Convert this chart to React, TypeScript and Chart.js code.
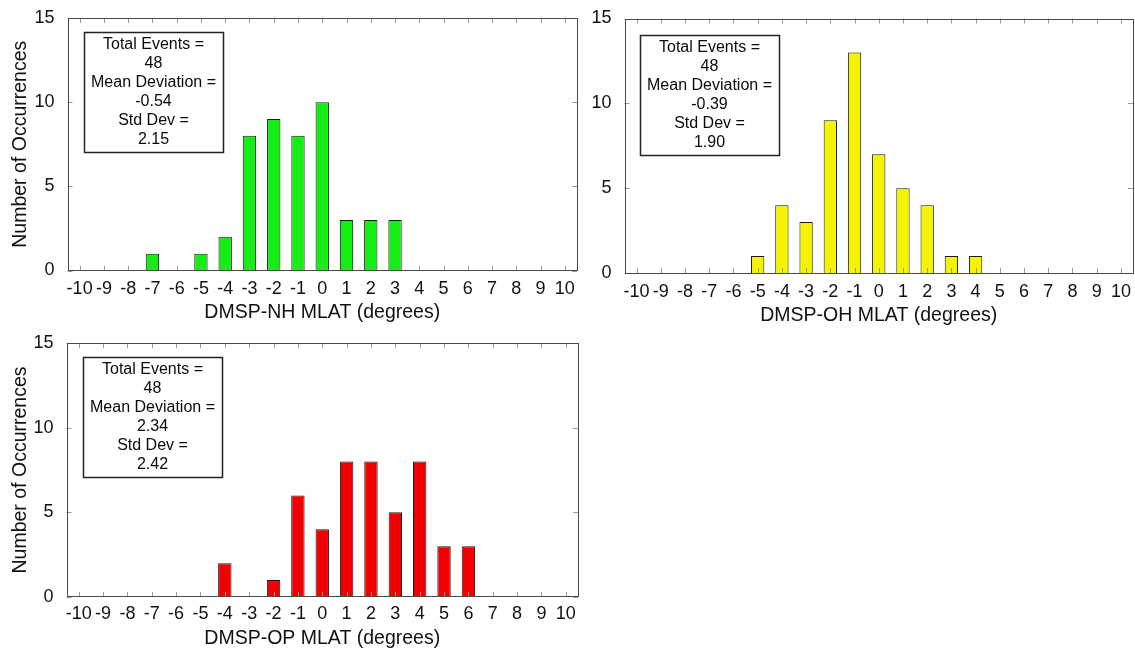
import React, { useEffect, useRef } from 'react';
import { Chart, registerables } from 'chart.js';

Chart.register(...registerables);

// ---- data ----
const degreeLabels = ['-10', '-9', '-8', '-7', '-6', '-5', '-4', '-3', '-2', '-1', '0', '1', '2', '3', '4', '5', '6', '7', '8', '9', '10'];

const nhCounts = [0, 0, 0, 1, 0, 1, 2, 8, 9, 8, 10, 3, 3, 3, 0, 0, 0, 0, 0, 0, 0];
const ohCounts = [0, 0, 0, 0, 0, 1, 4, 3, 9, 13, 7, 5, 4, 1, 1, 0, 0, 0, 0, 0, 0];
const opCounts = [0, 0, 0, 0, 0, 0, 2, 0, 1, 6, 4, 8, 8, 5, 8, 3, 3, 0, 0, 0, 0];

const nhStats = ['Total Events =', '48', 'Mean Deviation =', '-0.54', 'Std Dev =', '2.15'];
const ohStats = ['Total Events =', '48', 'Mean Deviation =', '-0.39', 'Std Dev =', '1.90'];
const opStats = ['Total Events =', '48', 'Mean Deviation =', '2.34', 'Std Dev =', '2.42'];

const yTickValues = [0, 5, 10, 15];
const yAxisTitle = 'Number of Occurrences';

const FONT = '"Liberation Sans", Arial, Helvetica, sans-serif';

type PanelCfg = {
  left: number;
  top: number;
  width: number;
  height: number;
  counts: number[];
  color: string;
  stats: string[];
  xTitle: string;
  showYTitle: boolean;
  yAxisWidth: number;
  xAxisHeight: number;
  padTop: number;
  padRight: number;
  xTickPad: number;
  xTitlePadBottom: number;
  boxDx: number;
  boxDy: number;
};

const panels: PanelCfg[] = [
  {
    left: 0, top: 0, width: 590, height: 330,
    counts: nhCounts, color: '#14ee14', stats: nhStats,
    xTitle: 'DMSP-NH MLAT (degrees)', showYTitle: true,
    yAxisWidth: 67.5, xAxisHeight: 59.5, padTop: 18, padRight: 13,
    xTickPad: 0, xTitlePadBottom: 6, boxDx: 16.5, boxDy: 14,
  },
  {
    left: 590, top: 0, width: 545, height: 330,
    counts: ohCounts, color: '#f4f400', stats: ohStats,
    xTitle: 'DMSP-OH MLAT (degrees)', showYTitle: false,
    yAxisWidth: 34.5, xAxisHeight: 57, padTop: 18.5, padRight: 2,
    xTickPad: 0, xTitlePadBottom: 3, boxDx: 15.5, boxDy: 16.5,
  },
  {
    left: 0, top: 325, width: 590, height: 326,
    counts: opCounts, color: '#f00000', stats: opStats,
    xTitle: 'DMSP-OP MLAT (degrees)', showYTitle: true,
    yAxisWidth: 66.5, xAxisHeight: 54, padTop: 18, padRight: 12,
    xTickPad: -2, xTitlePadBottom: 1, boxDx: 16.5, boxDy: 14,
  },
];

function makeFramePlugin() {
  return {
    id: 'matlabFrame',
    afterDatasetsDraw(chart: any) {
      const { ctx, chartArea: ca, scales } = chart;
      const xs = scales.x;
      const ys = scales.y;
      ctx.save();
      ctx.lineWidth = 1;
      ctx.strokeStyle = '#9a9a9a';
      const tl = 5;
      ctx.beginPath();
      xs.ticks.forEach((_t: any, i: number) => {
        const px = Math.round(xs.getPixelForTick(i)) + 0.5;
        ctx.moveTo(px, ca.bottom);
        ctx.lineTo(px, ca.bottom - tl);
        ctx.moveTo(px, ca.top);
        ctx.lineTo(px, ca.top + tl);
      });
      yTickValues.forEach((v) => {
        const py = Math.round(ys.getPixelForValue(v)) + 0.5;
        ctx.moveTo(ca.left, py);
        ctx.lineTo(ca.left + tl, py);
        ctx.moveTo(ca.right, py);
        ctx.lineTo(ca.right - tl, py);
      });
      ctx.stroke();
      ctx.strokeStyle = '#4a4a4a';
      ctx.strokeRect(Math.round(ca.left) + 0.5, Math.round(ca.top) + 0.5, Math.round(ca.right - ca.left) - 1, Math.round(ca.bottom - ca.top) - 1);
      ctx.restore();
    },
  };
}

function makeStatsPlugin(lines: string[], dx: number, dy: number) {
  return {
    id: 'statsBox',
    afterDraw(chart: any) {
      const { ctx, chartArea: ca } = chart;
      const w = 139;
      const h = 120;
      const x0 = Math.round(ca.left + dx);
      const y0 = Math.round(ca.top + dy);
      ctx.save();
      ctx.fillStyle = '#ffffff';
      ctx.fillRect(x0, y0, w, h);
      ctx.strokeStyle = '#222';
      ctx.lineWidth = 1.5;
      ctx.strokeRect(x0 + 0.5, y0 + 0.5, w, h);
      ctx.fillStyle = '#0a0a0a';
      ctx.font = `16px ${FONT}`;
      ctx.textAlign = 'center';
      ctx.textBaseline = 'middle';
      lines.forEach((t, i) => {
        ctx.fillText(t, x0 + w / 2, y0 + 13 + i * 19);
      });
      ctx.restore();
    },
  };
}

function Panel({ cfg }: { cfg: PanelCfg }) {
  const ref = useRef<HTMLCanvasElement | null>(null);
  useEffect(() => {
    if (!ref.current) return;
    const chart = new Chart(ref.current, {
      type: 'bar',
      data: {
        labels: degreeLabels,
        datasets: [
          {
            data: cfg.counts.map((v) => (v === 0 ? null : v)),
            backgroundColor: cfg.color,
            borderColor: '#1a1a1a',
            borderWidth: 1,
            barPercentage: 0.55,
            categoryPercentage: 1,
          } as any,
        ],
      },
      options: {
        responsive: false,
        animation: false,
        devicePixelRatio: 1,
        layout: { padding: { top: cfg.padTop, right: cfg.padRight, bottom: 0, left: 0 } },
        plugins: { legend: { display: false }, tooltip: { enabled: false } },
        scales: {
          x: {
            type: 'category',
            grid: { display: false },
            border: { display: false },
            ticks: {
              autoSkip: false,
              maxRotation: 0,
              minRotation: 0,
              padding: cfg.xTickPad,
              color: '#111',
              font: { family: FONT, size: 18 },
            },
            title: {
              display: true,
              text: cfg.xTitle,
              color: '#111',
              font: { family: FONT, size: 19.5 },
              padding: { top: 0, bottom: cfg.xTitlePadBottom },
            },
            afterFit(scale: any) {
              scale.height = cfg.xAxisHeight;
            },
          },
          y: {
            min: 0,
            max: 15,
            grid: { display: false },
            border: { display: false },
            ticks: {
              stepSize: 5,
              padding: 5,
              color: '#111',
              font: { family: FONT, size: 18 },
            },
            title: {
              display: cfg.showYTitle,
              text: yAxisTitle,
              color: '#111',
              font: { family: FONT, size: 19.5 },
              padding: { top: 9, bottom: 0 },
            },
            afterFit(scale: any) {
              scale.width = cfg.yAxisWidth;
            },
          },
        },
      } as any,
      plugins: [makeFramePlugin(), makeStatsPlugin(cfg.stats, cfg.boxDx, cfg.boxDy)],
    });
    return () => chart.destroy();
  }, [cfg]);
  return (
    <canvas
      ref={ref}
      width={cfg.width}
      height={cfg.height}
      style={{ position: 'absolute', left: cfg.left, top: cfg.top, width: cfg.width, height: cfg.height }}
    />
  );
}

export default function App() {
  return (
    <div style={{ position: 'fixed', left: 0, top: 0, width: 1135, height: 651, background: '#ffffff', overflow: 'hidden' }}>
      {panels.map((p, i) => (
        <Panel key={i} cfg={p} />
      ))}
    </div>
  );
}
